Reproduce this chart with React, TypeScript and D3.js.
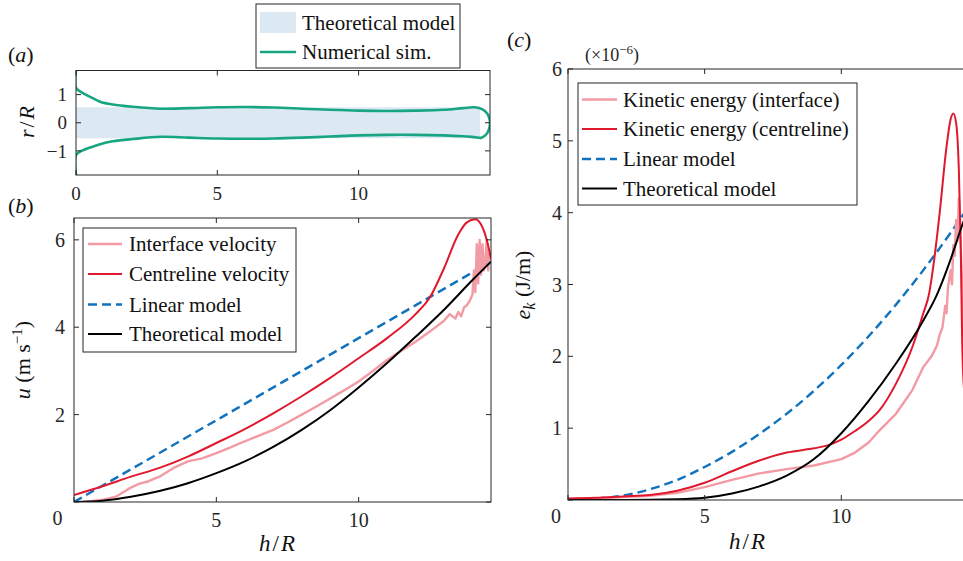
import React from 'react';
import * as d3 from 'd3';

const W = 963;
const H = 561;
const FONT = '"Liberation Serif", "Times New Roman", serif';
const INK = '#262626';

const PINK = '#f29ba5';
const RED = '#e0182e';
const BLUE = '#1172bd';
const GREEN = '#17a681';
const PATCH = '#dce9f3';

// ---- panel (a): jet shape, r/R against h/R
const theoryShapeH = [0, 14.3];
const theoryShapeR = [0.55, 0.55];
const simUpperH = [0, 0, 0.2, 0.5, 0.85, 1.3, 2, 3, 4, 5, 6, 7, 8, 9, 10, 11, 12, 13, 13.7, 14.1, 14.4, 14.55, 14.63, 14.65];
const simUpperR = [1.86, 1.24, 1.08, 0.92, 0.75, 0.65, 0.57, 0.5, 0.52, 0.55, 0.56, 0.54, 0.5, 0.46, 0.43, 0.42, 0.43, 0.46, 0.52, 0.55, 0.47, 0.33, 0.15, 0];
const simLowerH = [0, 0, 0.2, 0.5, 0.85, 1.3, 2, 3, 4, 5, 6, 7, 8, 9, 10, 11, 12, 13, 13.7, 14.1, 14.35, 14.55, 14.63];
const simLowerR = [-1.86, -1.15, -1.0, -0.88, -0.76, -0.66, -0.58, -0.5, -0.53, -0.56, -0.57, -0.56, -0.53, -0.49, -0.45, -0.43, -0.43, -0.45, -0.48, -0.51, -0.53, -0.37, -0.17];

// ---- panel (b): velocity u (m/s)
const velInterfaceH = [0.3, 0.6, 1, 1.5, 2, 2.3, 2.6, 3, 3.5, 4, 4.5, 5, 5.5, 6, 6.5, 7, 7.5, 8, 8.5, 9, 9.5, 10, 10.5, 11, 11.5, 12, 12.5, 13, 13.2, 13.4, 13.5, 13.6, 13.7, 13.8, 13.9, 14.0, 14.05, 14.1, 14.15, 14.2, 14.25, 14.3, 14.35, 14.4, 14.45, 14.5, 14.55, 14.6, 14.65];
const velInterface = [0, 0.02, 0.05, 0.13, 0.33, 0.42, 0.47, 0.58, 0.78, 0.93, 1.0, 1.12, 1.25, 1.39, 1.52, 1.65, 1.82, 2.0, 2.18, 2.37, 2.56, 2.76, 3.0, 3.25, 3.46, 3.67, 3.9, 4.15, 4.3, 4.2, 4.35, 4.25, 4.45, 4.5, 4.6, 4.75, 5.3, 4.8, 5.9, 5.0, 6.0, 5.2, 5.9, 5.3, 5.5, 6.0, 5.3, 5.7, 5.55];
const velCentreH = [0, 1, 2, 3, 4, 5, 6, 7, 8, 9, 10, 11, 12, 12.5, 13, 13.5, 13.8, 14.1, 14.3, 14.5, 14.65];
const velCentre = [0.16, 0.36, 0.58, 0.78, 1.04, 1.35, 1.67, 2.03, 2.42, 2.84, 3.29, 3.75, 4.3, 4.68, 5.35, 6.12, 6.4, 6.47, 6.35, 6.0, 5.57];
const velLinearH = [0, 5, 10, 14.65];
const velLinear = [0, 1.87, 3.75, 5.5];
const velTheoryH = [0, 1, 2, 3, 4, 5, 6, 7, 8, 9, 10, 11, 12, 13, 14, 14.65];
const velTheory = [0, 0.03, 0.12, 0.25, 0.43, 0.66, 0.93, 1.26, 1.65, 2.1, 2.62, 3.18, 3.78, 4.4, 5.08, 5.5];

// ---- panel (c): kinetic energy e_k (x1e-6 J/m)
const ekInterfaceH = [0, 1, 2, 3, 4, 5, 6, 7, 8, 9, 10, 10.5, 11, 11.4, 12, 12.6, 13, 13.3, 13.5, 13.6, 13.7, 13.8, 13.85, 13.9, 14.0, 14.05, 14.1, 14.15, 14.2, 14.25, 14.3, 14.35, 14.4, 14.45, 14.5, 14.65];
const ekInterface = [0.01, 0.02, 0.04, 0.06, 0.1, 0.18, 0.28, 0.37, 0.43, 0.48, 0.57, 0.66, 0.8, 0.97, 1.2, 1.53, 1.85, 2.0, 2.15, 2.3, 2.4, 2.7, 2.6, 2.95, 3.2, 3.0, 3.55, 3.4, 3.9, 3.6, 4.2, 3.8, 3.2, 2.6, 2.15, 2.0];
const ekCentreH = [0, 1, 2, 3, 4, 5, 6, 7, 8, 9, 9.5, 10, 10.5, 11, 11.4, 12, 12.6, 13, 13.2, 13.4, 13.6, 13.85, 14.0, 14.1, 14.2, 14.3, 14.37, 14.42, 14.5, 14.65];
const ekCentre = [0.02, 0.03, 0.05, 0.07, 0.13, 0.24, 0.4, 0.55, 0.66, 0.72, 0.76, 0.84, 0.96, 1.1, 1.25, 1.62, 2.13, 2.6, 2.85, 3.35, 4.0, 4.92, 5.3, 5.38, 5.25, 4.6, 3.53, 2.27, 1.5, 1.2];
const ekLinearH = [0, 1, 2, 3, 4, 5, 6, 7, 8, 9, 10, 11, 12, 13, 14, 14.65];
const ekLinear = [0, 0.02, 0.06, 0.15, 0.28, 0.46, 0.67, 0.92, 1.2, 1.52, 1.88, 2.28, 2.72, 3.2, 3.72, 4.08];
const ekTheoryH = [0, 2, 4, 5, 6, 7, 8, 9, 10, 11, 12, 13, 13.5, 14, 14.4, 14.65];
const ekTheory = [0, 0, 0.01, 0.03, 0.09, 0.19, 0.34, 0.57, 0.93, 1.38, 1.9, 2.5, 2.86, 3.35, 3.8, 4.05];

const xTicks = [0, 5, 10];
const yTicksA = [-1, 0, 1];
const yTicksB = [0, 2, 4, 6];
const yTicksC = [0, 1, 2, 3, 4, 5, 6];

const legendA = ['Theoretical model', 'Numerical sim.'];
const legendB = ['Interface velocity', 'Centreline velocity', 'Linear model', 'Theoretical model'];
const legendC = ['Kinetic energy (interface)', 'Kinetic energy (centreline)', 'Linear model', 'Theoretical model'];
const seriesStyle = [
  { stroke: PINK, width: 2.4, dash: undefined },
  { stroke: RED, width: 2, dash: undefined },
  { stroke: BLUE, width: 2.4, dash: '9,5' },
  { stroke: '#000', width: 2, dash: undefined },
];

const xA = d3.scaleLinear().domain([0, 14.65]).range([76, 490]);
const yA = d3.scaleLinear().domain([-1.857, 1.857]).range([175, 70.5]);
const xB = d3.scaleLinear().domain([0, 14.65]).range([74, 491]);
const yB = d3.scaleLinear().domain([0, 6.5]).range([502, 218]);
const xC = d3.scaleLinear().domain([0, 14.65]).range([568, 968.4]);
const yC = d3.scaleLinear().domain([0, 6]).range([500, 69]);

const zip = (hs: number[], vs: number[]) => hs.map((h, i) => [h, vs[i]] as [number, number]);

function Frame({ x, y, yTicks, tick = 5 }: any) {
  const [x0, x1] = x.range();
  const [y0, y1] = y.range();
  return (
    <g stroke={INK} strokeWidth={1} fill="none">
      <rect x={x0} y={y1} width={x1 - x0} height={y0 - y1} />
      {xTicks.map((t) => (
        <g key={'x' + t}>
          <line x1={x(t)} x2={x(t)} y1={y0} y2={y0 - tick} />
          <line x1={x(t)} x2={x(t)} y1={y1} y2={y1 + tick} />
        </g>
      ))}
      {yTicks.map((t: number) => (
        <g key={'y' + t}>
          <line x1={x0} x2={x0 + tick} y1={y(t)} y2={y(t)} />
          <line x1={x1} x2={x1 - tick} y1={y(t)} y2={y(t)} />
        </g>
      ))}
    </g>
  );
}

function Series({ x, y, hs, vs, idx, curve }: any) {
  const s = seriesStyle[idx];
  const line = d3
    .line<[number, number]>()
    .x((d) => x(d[0]))
    .y((d) => y(d[1]))
    .curve(curve || d3.curveLinear);
  return (
    <path
      d={line(zip(hs, vs)) || ''}
      fill="none"
      stroke={s.stroke}
      strokeWidth={s.width}
      strokeDasharray={s.dash}
      strokeLinejoin="round"
    />
  );
}

function Legend({ x, y, w, h, labels, rowY, lineX, textX }: any) {
  return (
    <g>
      <rect x={x} y={y} width={w} height={h} fill="#fff" stroke={INK} strokeWidth={1} />
      {labels.map((lab: string, i: number) => {
        const s = seriesStyle[i];
        return (
          <g key={lab}>
            <line x1={lineX[0]} x2={lineX[1]} y1={rowY[i]} y2={rowY[i]} stroke={s.stroke} strokeWidth={s.width} strokeDasharray={s.dash} />
            <text x={textX} y={rowY[i]} dy="0.35em" fontSize={21} fill="#111">{lab}</text>
          </g>
        );
      })}
    </g>
  );
}

export default function App() {
  const simPts: [number, number][] = [
    ...zip(simUpperH, simUpperR),
    ...zip(simLowerH, simLowerR).reverse(),
  ];
  const simLine = d3
    .line<[number, number]>()
    .x((d) => xA(d[0]))
    .y((d) => yA(d[1]))
    .curve(d3.curveCatmullRom.alpha(0.5));
  const band = d3
    .area<[number, number]>()
    .x((d) => xA(d[0]))
    .y0((d) => yA(-d[1]))
    .y1((d) => yA(d[1]));
  const smooth = d3.curveMonotoneX;

  return (
    <svg
      width={W}
      height={H}
      style={{ position: 'absolute', left: 0, top: 0, background: '#fff' }}
      fontFamily={FONT}
    >
      <defs>
        <clipPath id="clipA"><rect x={76} y={70.5} width={414} height={104.5} /></clipPath>
        <clipPath id="clipB"><rect x={74} y={218} width={417} height={284} /></clipPath>
        <clipPath id="clipC"><rect x={568} y={69} width={401} height={431} /></clipPath>
      </defs>

      {/* ---------- (a) ---------- */}
      <text x={8} y={62} fontSize={22} fill="#111">(<tspan fontStyle="italic">a</tspan>)</text>
      <g clipPath="url(#clipA)">
        <path d={band(zip(theoryShapeH, theoryShapeR)) || ''} fill={PATCH} />
        <path d={simLine(simPts) || ''} fill="none" stroke={GREEN} strokeWidth={2.6} />
      </g>
      <Frame x={xA} y={yA} yTicks={yTicksA} />
      {xTicks.map((t) => (
        <text key={t} x={xA(t)} y={200} textAnchor="middle" fontSize={19} fill={INK}>{t}</text>
      ))}
      {yTicksA.map((t) => (
        <text key={t} x={67} y={yA(t)} dy="0.35em" textAnchor="end" fontSize={19} fill={INK}>{t < 0 ? '\u2212' + Math.abs(t) : t}</text>
      ))}
      <text transform="translate(34,122) rotate(-90)" textAnchor="middle" fontSize={22} fill="#111" fontStyle="italic">
        r<tspan fontStyle="normal" dx={2}>/</tspan><tspan dx={2}>R</tspan>
      </text>
      <g>
        <rect x={256} y={4} width={204} height={64} fill="#fff" stroke={INK} strokeWidth={1} />
        <rect x={260} y={12} width={36} height={21} fill={PATCH} />
        <text x={302} y={22.5} dy="0.35em" fontSize={21} fill="#111">{legendA[0]}</text>
        <line x1={260} x2={296} y1={52} y2={52} stroke={GREEN} strokeWidth={2.6} />
        <text x={302} y={52} dy="0.35em" fontSize={21} fill="#111">{legendA[1]}</text>
      </g>

      {/* ---------- (b) ---------- */}
      <text x={8} y={213} fontSize={22} fill="#111">(<tspan fontStyle="italic">b</tspan>)</text>
      <g clipPath="url(#clipB)">
        <Series x={xB} y={yB} hs={velLinearH} vs={velLinear} idx={2} />
        <Series x={xB} y={yB} hs={velInterfaceH} vs={velInterface} idx={0} />
        <Series x={xB} y={yB} hs={velCentreH} vs={velCentre} idx={1} curve={smooth} />
        <Series x={xB} y={yB} hs={velTheoryH} vs={velTheory} idx={3} curve={smooth} />
      </g>
      <Frame x={xB} y={yB} yTicks={yTicksB} />
      {xTicks.filter((t) => t > 0).map((t) => (
        <text key={t} x={xB(t)} y={527} textAnchor="middle" fontSize={20} fill={INK}>{t}</text>
      ))}
      <text x={57.5} y={525} textAnchor="middle" fontSize={20} fill={INK}>0</text>
      {yTicksB.filter((t) => t > 0).map((t) => (
        <text key={t} x={65} y={yB(t)} dy="0.35em" textAnchor="end" fontSize={20} fill={INK}>{t}</text>
      ))}
      <text x={277} y={551} textAnchor="middle" fontSize={23} fill="#111" fontStyle="italic">
        h<tspan fontStyle="normal" dx={2}>/</tspan><tspan dx={2}>R</tspan>
      </text>
      <text transform="translate(30,360) rotate(-90)" textAnchor="middle" fontSize={22} fill="#111">
        <tspan fontStyle="italic">u</tspan> (m s<tspan dy={-8} fontSize={15}>{'\u22121'}</tspan><tspan dy={8}>)</tspan>
      </text>
      <Legend x={83} y={228} w={213} h={124} labels={legendB} rowY={[244, 274, 304.5, 334]} lineX={[88, 122]} textX={129} />

      {/* ---------- (c) ---------- */}
      <text x={507} y={47} fontSize={22} fill="#111">(<tspan fontStyle="italic">c</tspan>)</text>
      <text x={585} y={61} fontSize={18} fill={INK}>
        (×10<tspan dy={-7} fontSize={13}>{'\u22126'}</tspan><tspan dy={7}>)</tspan>
      </text>
      <g clipPath="url(#clipC)">
        <Series x={xC} y={yC} hs={ekLinearH} vs={ekLinear} idx={2} curve={smooth} />
        <Series x={xC} y={yC} hs={ekInterfaceH} vs={ekInterface} idx={0} />
        <Series x={xC} y={yC} hs={ekCentreH} vs={ekCentre} idx={1} curve={smooth} />
        <Series x={xC} y={yC} hs={ekTheoryH} vs={ekTheory} idx={3} curve={smooth} />
      </g>
      <Frame x={xC} y={yC} yTicks={yTicksC} />
      {xTicks.filter((t) => t > 0).map((t) => (
        <text key={t} x={xC(t)} y={523} textAnchor="middle" fontSize={20} fill={INK}>{t}</text>
      ))}
      <text x={556} y={523} textAnchor="middle" fontSize={20} fill={INK}>0</text>
      {yTicksC.filter((t) => t > 0).map((t) => (
        <text key={t} x={562} y={yC(t)} dy="0.35em" textAnchor="end" fontSize={20} fill={INK}>{t}</text>
      ))}
      <text x={747} y={549} textAnchor="middle" fontSize={23} fill="#111" fontStyle="italic">
        h<tspan fontStyle="normal" dx={2}>/</tspan><tspan dx={2}>R</tspan>
      </text>
      <text transform="translate(530,285) rotate(-90)" textAnchor="middle" fontSize={22} fill="#111">
        <tspan fontStyle="italic">e</tspan><tspan fontStyle="italic" dy={5} fontSize={16}>k</tspan><tspan dy={-5}> (J/m)</tspan>
      </text>
      <Legend x={578} y={83} w={279} h={122} labels={legendC} rowY={[99.5, 129, 159, 188.5]} lineX={[582, 617]} textX={623} />
    </svg>
  );
}
